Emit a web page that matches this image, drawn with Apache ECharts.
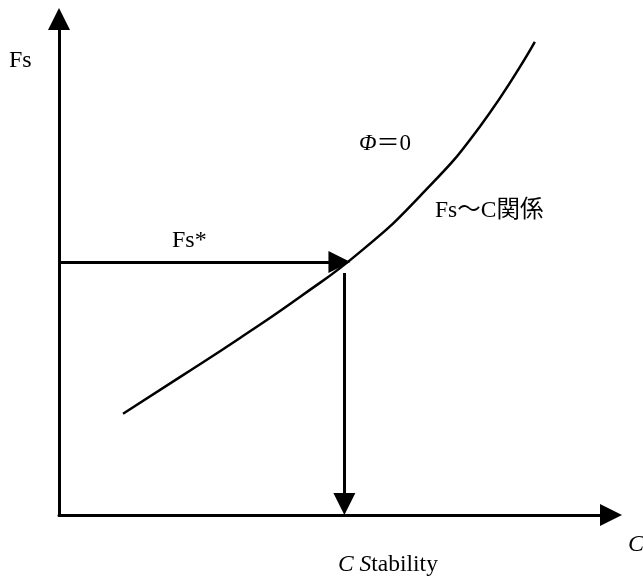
<!DOCTYPE html>
<html>
<head>
<meta charset="utf-8">
<script src="https://cdn.jsdelivr.net/npm/echarts@6/dist/echarts.min.js"></script>
<style>
html, body { margin: 0; padding: 0; background: #fff; }
#main { width: 643px; height: 578px; }
</style>
</head>
<body>
<div id="main"></div>
<script>
// Fs ~ C 関係 の曲線 (x: C, y: Fs, 0-100 の相対値)
var curveC  = [11.6, 21.9, 32.8, 43.7, 54.5, 65.4, 76.3, 86.2];
var curveFs = [20.4, 27.8, 35.7, 44.0, 53.0, 64.3, 78.4, 95.4];

// Fs* と対応する C
var fsStar = 51.0;
var cStar = 51.7;
var hArrowEnd = 50.8;   // 横矢印の終点 (C)
var vArrowStart = 48.8; // 縦矢印の始点 (Fs)
var vArrowEnd = 2.2;    // 縦矢印の終点 (Fs)

var serif = '"Liberation Serif", "Noto Sans CJK JP", serif';

var myChart = echarts.init(document.getElementById('main'));

var curveData = [];
for (var i = 0; i < curveC.length; i++) {
    curveData.push([curveC[i], curveFs[i]]);
}

option = {
    backgroundColor: '#fff',
    animation: false,
    grid: {
        left: 59,
        right: 32,
        top: 19,
        bottom: 63
    },
    xAxis: {
        type: 'value',
        min: 0,
        max: 100,
        splitLine: {show: false},
        axisTick: {show: false},
        axisLabel: {show: false},
        axisLine: {
            show: true,
            symbol: ['none', 'triangle'],
            symbolSize: [22, 22],
            lineStyle: {color: '#000', width: 3}
        }
    },
    yAxis: {
        type: 'value',
        min: 0,
        max: 100,
        splitLine: {show: false},
        axisTick: {show: false},
        axisLabel: {show: false},
        axisLine: {
            show: true,
            symbol: ['none', 'triangle'],
            symbolSize: [22, 22],
            lineStyle: {color: '#000', width: 3}
        }
    },
    graphic: [
        {type: 'text', style: {x: 9, y: 61, text: 'Fs', font: '24px ' + serif, fill: '#000', verticalAlign: 'middle'}},
        {type: 'text', style: {x: 359, y: 144, text: '{i|Φ}＝0', font: '23px ' + serif, fill: '#000', verticalAlign: 'middle',
            rich: {i: {fontStyle: 'italic', fontSize: 23, fontFamily: serif}}}},
        {type: 'text', style: {x: 435, y: 211, text: 'Fs～C関係', font: '23.5px ' + serif, fill: '#000', verticalAlign: 'middle'}},
        {type: 'text', style: {x: 172, y: 241, text: 'Fs*', font: '24px ' + serif, fill: '#000', verticalAlign: 'middle'}},
        {type: 'text', style: {x: 628, y: 545, text: 'C', font: 'italic 24px ' + serif, fill: '#000', verticalAlign: 'middle'}},
        {type: 'text', style: {x: 338, y: 565, text: '{i|C S}tability', font: '23.5px ' + serif, fill: '#000', verticalAlign: 'middle',
            rich: {i: {fontStyle: 'italic', fontSize: 23.5, fontFamily: serif}}}}
    ],
    series: [
        {
            name: 'Fs~C',
            type: 'line',
            data: curveData,
            smooth: 0.5,
            showSymbol: false,
            lineStyle: {color: '#000', width: 2.5}
        },
        {
            name: 'arrows',
            type: 'lines',
            coordinateSystem: 'cartesian2d',
            symbol: ['none', 'triangle'],
            symbolSize: 22,
            lineStyle: {color: '#000', width: 3, opacity: 1},
            data: [
                {coords: [[0, fsStar], [hArrowEnd, fsStar]]},
                {coords: [[cStar, vArrowStart], [cStar, vArrowEnd]]}
            ]
        }
    ]
};

myChart.setOption(option);
</script>
</body>
</html>
